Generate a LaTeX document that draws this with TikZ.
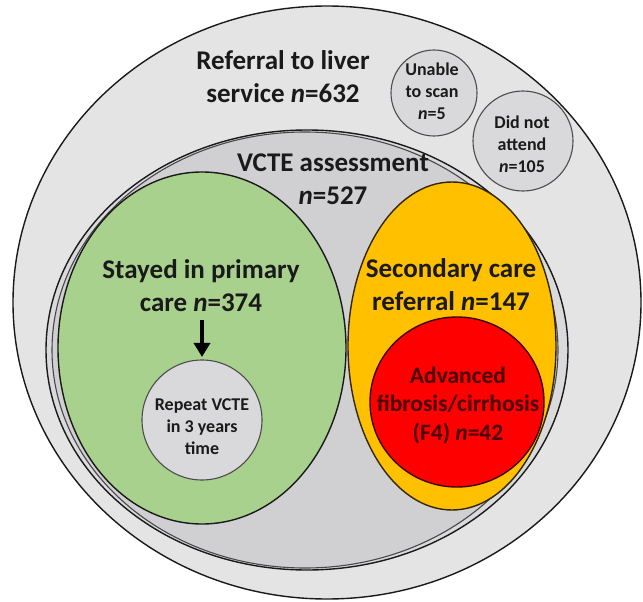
\documentclass[tikz,border=0pt]{standalone}
\usepackage{fontspec}
\setmainfont{Carlito}
\usetikzlibrary{shapes.geometric,arrows.meta}
\definecolor{outerfill}{HTML}{E4E4E5}
\definecolor{vctefill}{HTML}{DADADD}
\definecolor{innerfill}{HTML}{D0D0D3}
\definecolor{greenfill}{HTML}{A9D18E}
\definecolor{orangefill}{HTML}{FFC000}
\definecolor{redfill}{HTML}{FF0000}
\definecolor{smallfill}{HTML}{D9D9DB}
\definecolor{linecol}{HTML}{1A1A1A}
\definecolor{redtext}{HTML}{4A0000}
\begin{document}
\begin{tikzpicture}[x=1pt,y=-1pt,
  blob/.style={ellipse, draw=linecol, line width=1.4pt, inner sep=0pt},
  smallcirc/.style={circle, draw=black!70, line width=1.1pt, fill=smallfill, inner sep=0pt},
  bigtxt/.style={align=center, font=\fontsize{27}{33}\selectfont\bfseries, text=linecol, inner sep=0pt},
  midtxt/.style={align=center, font=\fontsize{23.5}{28.5}\selectfont\bfseries, inner sep=0pt},
  smalltxt/.style={align=center, font=\fontsize{18}{22}\selectfont\bfseries, text=linecol, inner sep=0pt}]
\useasboundingbox (0,0) rectangle (643,602);
\fill[white] (0,0) rectangle (643,602);
% nested sets
\node[blob, fill=outerfill, minimum width=628pt, minimum height=593pt] (outer) at (327,302.5) {};
\node[blob, fill=vctefill, minimum width=522pt, minimum height=440pt] (vcte) at (307,350) {};
\node[blob, draw=linecol!80, line width=1.1pt, fill=innerfill, minimum width=506pt, minimum height=436pt] (inner) at (305,350) {};
\node[blob, fill=greenfill, minimum width=288pt, minimum height=352pt] (green) at (202,348) {};
\node[blob, draw=black!80!orangefill, fill=orangefill, minimum width=208pt, minimum height=328pt] (orange) at (452,346) {};
\node[blob, draw=black!75!redfill, fill=redfill, minimum width=174pt, minimum height=170pt] (red) at (457,402) {};
\node[smallcirc, minimum size=120pt] (repeat) at (202,420) {};
\node[smallcirc, minimum size=86pt] (unable) at (434,93) {};
\node[smallcirc, minimum size=100pt] (dna) at (523,141) {};
% texts
\node[bigtxt] (touter) at (283,77) {Referral to liver\\service \textit{n}=632};
\node[bigtxt] (tvcte) at (333,179.5) {VCTE assessment\\\textit{n}=527};
\node[bigtxt] (tgreen) at (201,285.5) {Stayed in primary\\care \textit{n}=374};
\node[bigtxt] (torange) at (451,285) {Secondary care\\referral \textit{n}=147};
\node[midtxt, text=redtext] (tred) at (458,405.5) {Advanced\\fibrosis/cirrhosis\\(F4) \textit{n}=42};
\node[smalltxt] (trepeat) at (202,427) {Repeat VCTE\\in 3 years\\time};
\node[smalltxt] (tunable) at (432,91) {Unable\\to scan\\\textit{n}=5};
\node[smalltxt] (tdna) at (522,144) {Did not\\attend\\\textit{n}=105};
% arrow
\coordinate (astart) at (202,320);
\draw[line width=4pt, shorten >=2.5pt, -{Triangle[length=14pt,width=16pt]}] (astart) -- (repeat.north);
\end{tikzpicture}
\end{document}
